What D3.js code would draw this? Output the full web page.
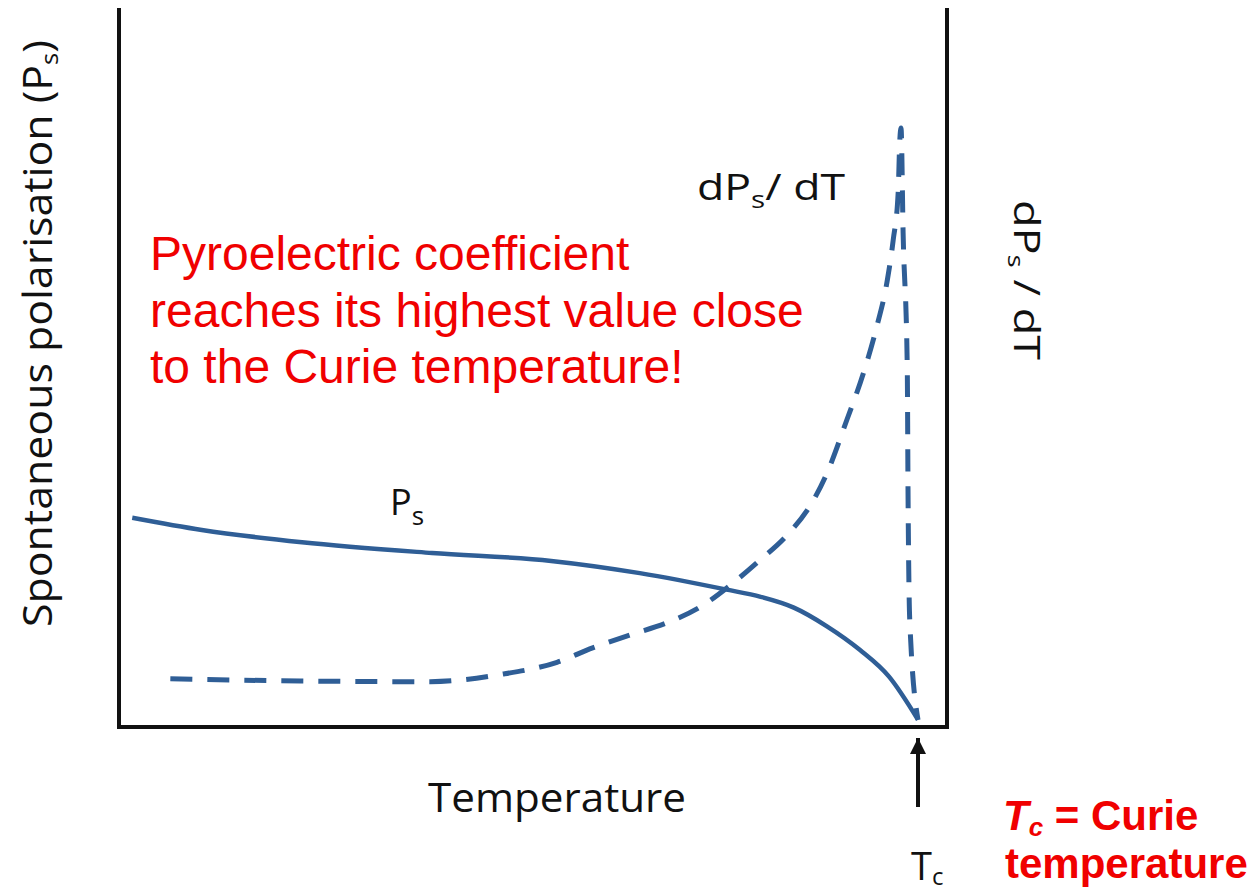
<!DOCTYPE html>
<html lang="en">
<head>
    <meta charset="UTF-8">
    <title>Pyroelectric coefficient vs temperature</title>
    <script src="https://d3js.org/d3.v7.min.js"></script>
    <style>
        body { margin: 0; background: white; }
        .lbl { font-family: "Open Sans", Lato, sans-serif; fill: #111; }
        .red { font-family: "Liberation Sans", Arial, sans-serif; fill: #f00000; }
    </style>
</head>
<body>
    <svg width="1259" height="893"></svg>

    <script>
        // temperature (arbitrary units, 0..100), Tc at 96.5
        const psT   = [1.6, 10, 22.1, 37.8, 52.2, 62.9, 73.4, 77.5, 81.5, 85.5, 89.5, 93.0, 96.5];
        const psVal = [29.1, 27.4, 25.7, 24.2, 23.1, 21.4, 19.1, 18.1, 16.6, 14.0, 10.7, 7.0, 1.0];

        const dpT   = [6.2, 21.9, 37.6, 46.0, 52.9, 57.2, 61.7, 66.2, 70.2, 73.8, 77.4, 80.7, 83.7, 85.5, 87.9, 89.9, 91.5, 92.8, 93.5, 94.1, 94.3, 94.45, 94.7, 95.2, 95.3, 95.5, 96.5];
        const dpVal = [6.7, 6.4, 6.3, 7.3, 9.0, 11.0, 12.8, 14.5, 16.7, 19.7, 23.2, 26.7, 31.2, 35.3, 42.7, 49.2, 55.6, 62.2, 67.7, 74.3, 81.6, 83.3, 68.7, 50.1, 31.6, 14.9, 1.0];

        const tc = 96.5;

        const svg = d3.select("svg");
        const mLeft = 119, mRight = 947, mTop = 8, mBottom = 727;

        const x = d3.scaleLinear().domain([0, 100]).range([mLeft, mRight]);
        const y = d3.scaleLinear().domain([0, 100]).range([mBottom, mTop]);

        // frame (left, bottom, right; open at top)
        svg.append("path")
            .attr("d", `M${x(0)},${y(100)} V${y(0)} H${x(100)} V${y(100)}`)
            .attr("fill", "none")
            .attr("stroke", "#111")
            .attr("stroke-width", 4);

        const line = d3.line()
            .x(d => x(d[0]))
            .y(d => y(d[1]))
            .curve(d3.curveMonotoneX);

        svg.append("path")
            .datum(d3.zip(psT, psVal))
            .attr("d", line)
            .attr("fill", "none")
            .attr("stroke", "#2f5e96")
            .attr("stroke-width", 4.5);

        svg.append("path")
            .datum(d3.zip(dpT, dpVal))
            .attr("d", line)
            .attr("fill", "none")
            .attr("stroke", "#2f5e96")
            .attr("stroke-width", 5)
            .attr("stroke-dasharray", "22,15");

        // Tc arrow
        svg.append("defs").append("marker")
            .attr("id", "head")
            .attr("viewBox", "0 0 10 10")
            .attr("refX", 10).attr("refY", 5)
            .attr("markerWidth", 4).attr("markerHeight", 4)
            .attr("orient", "auto")
            .append("path").attr("d", "M0,0 L10,5 L0,10 Z").attr("fill", "#111");

        svg.append("line")
            .attr("x1", x(tc)).attr("x2", x(tc))
            .attr("y1", 807).attr("y2", 738)
            .attr("stroke", "#111").attr("stroke-width", 4)
            .attr("marker-end", "url(#head)");

        const tcLbl = svg.append("text").attr("class", "lbl")
            .attr("x", x(tc) - 7).attr("y", 880)
            .attr("font-size", 38);
        tcLbl.append("tspan").text("T");
        tcLbl.append("tspan").attr("font-size", 24).attr("dy", 5).text("c");

        // axis titles
        svg.append("text").attr("class", "lbl")
            .attr("x", 428).attr("y", 812)
            .attr("font-size", 40)
            .attr("textLength", 258).attr("lengthAdjust", "spacingAndGlyphs")
            .text("Temperature");

        const yl = svg.append("text").attr("class", "lbl")
            .attr("transform", "translate(52,627) rotate(-90)")
            .attr("font-size", 40)
            .attr("textLength", 587).attr("lengthAdjust", "spacingAndGlyphs");
        yl.append("tspan").text("Spontaneous polarisation (P");
        yl.append("tspan").attr("font-size", 24).attr("dy", 6).text("s");
        yl.append("tspan").attr("dy", -6).text(")");

        const yr = svg.append("text").attr("class", "lbl")
            .attr("transform", "translate(1014,200) rotate(90)")
            .attr("font-size", 36)
            .attr("textLength", 160).attr("lengthAdjust", "spacingAndGlyphs");
        yr.append("tspan").text("dP");
        yr.append("tspan").attr("font-size", 22).attr("dy", 6).text("s");
        yr.append("tspan").attr("dy", -6).text(" / dT");

        // curve labels
        const psL = svg.append("text").attr("class", "lbl")
            .attr("x", 390).attr("y", 515).attr("font-size", 36);
        psL.append("tspan").text("P");
        psL.append("tspan").attr("font-size", 26).attr("dy", 10).text("s");

        const dpL = svg.append("text").attr("class", "lbl")
            .attr("x", 697).attr("y", 200).attr("font-size", 36)
            .attr("textLength", 148).attr("lengthAdjust", "spacingAndGlyphs");
        dpL.append("tspan").text("dP");
        dpL.append("tspan").attr("font-size", 24).attr("dy", 8).text("s");
        dpL.append("tspan").attr("dy", -8).text("/ dT");

        // red annotation
        const note = ["Pyroelectric coefficient", "reaches its highest value close", "to the Curie temperature!"];
        svg.append("g").selectAll("text")
            .data(note)
            .join("text")
            .attr("class", "red")
            .attr("x", 150)
            .attr("y", (d, i) => 270 + i * 56.5)
            .attr("font-size", 48)
            .text(d => d);

        const tcNote = svg.append("text").attr("class", "red")
            .attr("x", 1003).attr("y", 830)
            .attr("font-size", 42).attr("font-weight", "bold");
        tcNote.append("tspan").attr("font-style", "italic").text("T");
        tcNote.append("tspan").attr("font-style", "italic").attr("font-size", 26).attr("dy", 6).text("c");
        tcNote.append("tspan").attr("dy", -6).text(" = Curie");

        svg.append("text").attr("class", "red")
            .attr("x", 1005).attr("y", 878)
            .attr("font-size", 42).attr("font-weight", "bold")
            .text("temperature");
    </script>
</body>
</html>
